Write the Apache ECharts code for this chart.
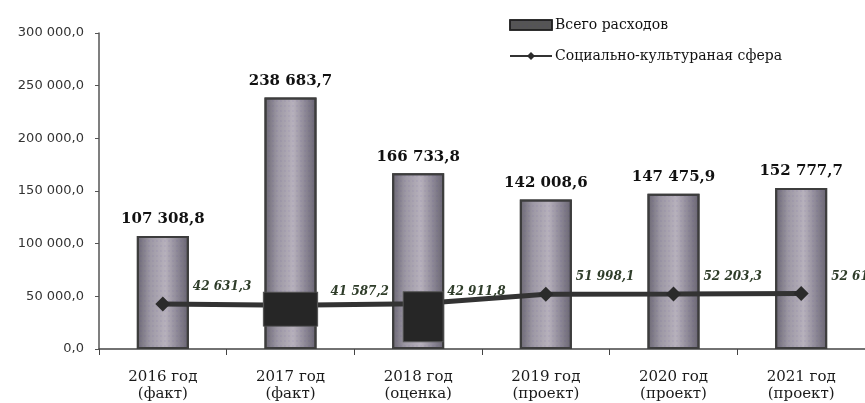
<!DOCTYPE html>
<html>
<head>
<meta charset="utf-8">
<script src="https://cdn.jsdelivr.net/npm/echarts@6/dist/echarts.min.js"></script>
<style>
html,body{margin:0;padding:0;background:#fff;}
#chart{width:865px;height:403px;}
</style>
</head>
<body>
<div id="chart"></div>
<script>
// ---- data ----
const categories = [
  '2016 год\n(факт)', '2017 год\n(факт)', '2018 год\n(оценка)',
  '2019 год\n(проект)', '2020 год\n(проект)', '2021 год\n(проект)'
];
const totalExpenses = [107308.8, 238683.7, 166733.8, 142008.6, 147475.9, 152777.7];
const socialCultural = [42631.3, 41587.2, 42911.8, 51998.1, 52203.3, 52619.0];
const seriesNames = ['Всего расходов', 'Социально-культураная сфера'];
const yTicks = { min: 0, max: 300000, step: 50000 };

// ---- helpers ----
function fmt(v) {
  const parts = Number(v).toFixed(1).split('.');
  const intPart = parts[0].replace(/\B(?=(\d{3})+(?!\d))/g, ' ');
  return intPart + ',' + parts[1];
}

// points that are hidden under dark boxes in the original picture (styling only)
const boxedPoints = {
  1: { size: [54, 34], offset: [0, 4], labelOffset: [40, -17] },
  2: { size: [40, 50], offset: [5, 13], labelOffset: [24, -25] }
};

const lineData = socialCultural.map((v, i) => {
  const b = boxedPoints[i];
  if (!b) return v;
  return {
    value: v,
    symbol: 'rect',
    symbolSize: b.size,
    symbolOffset: b.offset,
    itemStyle: { color: '#262626', borderColor: '#555', borderWidth: 1 },
    label: { offset: b.labelOffset }
  };
});

const barFill = {
  type: 'linear', x: 0, y: 0, x2: 1, y2: 0,
  colorStops: [
    { offset: 0, color: '#6a6672' },
    { offset: 0.25, color: '#9d98a4' },
    { offset: 0.55, color: '#b7b1bc' },
    { offset: 0.8, color: '#8a8593' },
    { offset: 1, color: '#67636f' }
  ]
};

const chart = echarts.init(document.getElementById('chart'));
chart.setOption({
  backgroundColor: '#ffffff',
  animation: false,
  grid: { left: 99, top: 33, width: 768, height: 317, containLabel: false },
  legend: {
    orient: 'vertical',
    left: 504,
    top: 13,
    itemWidth: 42,
    itemHeight: 10,
    itemGap: 17,
    textStyle: { fontFamily: 'DejaVu Serif', fontSize: 14, color: '#111', padding: [0, 0, 0, -2] },
    data: [
      { name: seriesNames[0], icon: 'rect', itemStyle: { color: '#555', borderColor: '#222', borderWidth: 1.5 } },
      { name: seriesNames[1] }
    ]
  },
  xAxis: {
    type: 'category',
    data: categories,
    axisLine: { lineStyle: { color: '#444', width: 1.5 } },
    axisTick: { show: true, alignWithLabel: false, length: 6, lineStyle: { color: '#444' } },
    axisLabel: {
      fontFamily: 'DejaVu Serif', fontSize: 15, color: '#1a1a1a',
      lineHeight: 17, margin: 20, interval: 0
    }
  },
  yAxis: {
    type: 'value',
    min: yTicks.min,
    max: yTicks.max,
    interval: yTicks.step,
    axisLine: { show: true, lineStyle: { color: '#555', width: 1.5 } },
    axisTick: { show: true, length: 4, lineStyle: { color: '#555' } },
    splitLine: { show: false },
    axisLabel: {
      fontFamily: 'DejaVu Sans', fontSize: 13, color: '#333', margin: 15,
      formatter: v => fmt(v)
    }
  },
  series: [
    {
      name: seriesNames[0],
      type: 'bar',
      data: totalExpenses,
      barWidth: 52,
      z: 2,
      itemStyle: {
        color: barFill,
        borderColor: '#3d3d3d',
        borderWidth: 2,
        decal: {
          symbol: 'rect', symbolSize: 0.6,
          dashArrayX: [2, 2], dashArrayY: [2, 3],
          color: 'rgba(70,50,150,0.2)', rotation: 0
        }
      },
      label: {
        show: true, position: 'top', distance: 9,
        fontFamily: 'DejaVu Serif', fontWeight: 'bold', fontSize: 15, color: '#111',
        formatter: p => fmt(p.value)
      }
    },
    {
      name: seriesNames[1],
      type: 'line',
      data: lineData,
      z: 3,
      symbol: 'diamond',
      symbolSize: 15,
      lineStyle: { color: '#333', width: 5 },
      itemStyle: { color: '#2b2b2b' },
      label: {
        show: true, position: 'inside', align: 'left', offset: [30, -17],
        fontFamily: 'DejaVu Serif', fontStyle: 'italic', fontWeight: 'bold',
        fontSize: 12, color: '#2f3d2a',
        formatter: p => fmt(socialCultural[p.dataIndex])
      }
    }
  ]
});
</script>
</body>
</html>
